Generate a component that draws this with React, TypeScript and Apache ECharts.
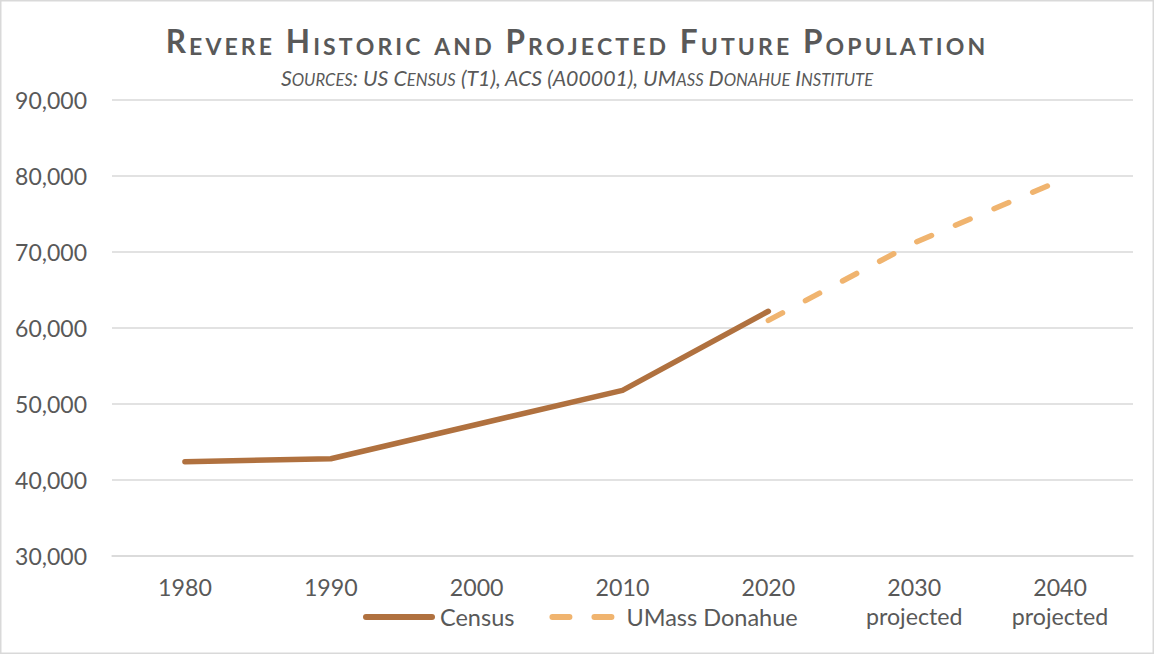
import React, { useEffect, useRef } from "react";
import * as echarts from "echarts";

const categories = ["1980", "1990", "2000", "2010", "2020", "2030\nprojected", "2040\nprojected"];
const censusValues = [42400, 42800, 47300, 51800, 62200, null, null];
const donahueValues = [null, null, null, null, 61000, 71200, 79400];
const yTicks = { min: 30000, max: 90000, interval: 10000 };

const TITLE = "Revere Historic and Projected Future Population";
const SUBTITLE = "Sources: US Census (T1), ACS (A00001), UMass Donahue Institute";

// Small-caps rich text: capitals/non-letters in style "a", lowercase shown as smaller capitals in style "b".
// perChar: one token per character (so token padding acts as letter spacing)
function smallCaps(s: string, perChar: boolean): string {
  let out = "";
  let cur = "";
  let curStyle = "";
  const flush = () => {
    if (cur) out += `{${curStyle}|${cur}}`;
    cur = "";
  };
  for (const ch of s) {
    const isLower = ch >= "a" && ch <= "z";
    const st = isLower ? "b" : "a";
    if (st !== curStyle || perChar) {
      flush();
      curStyle = st;
    }
    cur += isLower ? ch.toUpperCase() : ch;
  }
  flush();
  return out;
}

const GRAY = "#595959";
const FONT = "Lato, 'Open Sans', sans-serif";
const CENSUS_COLOR = "#B0713F";
const DONAHUE_COLOR = "#F0B46F";

const censusIcon = "path://M3,0L69,0A3,3,0,0,1,69,6L3,6A3,3,0,0,1,3,0Z";
const donahueIcon =
  "path://M3,0L20,0A3,3,0,0,1,20,6L3,6A3,3,0,0,1,3,0Z M45,0L62,0A3,3,0,0,1,62,6L45,6A3,3,0,0,1,45,0Z M72,0L72,6";

export default function App() {
  const ref = useRef<HTMLDivElement>(null);
  useEffect(() => {
    if (!ref.current) return;
    const chart = echarts.init(ref.current, undefined, { renderer: "svg" });
    const sp = 3.1;
    chart.setOption({
      animation: false,
      backgroundColor: "#ffffff",
      textStyle: { fontFamily: FONT },
      title: [
        {
          text: smallCaps(TITLE, true),
          left: "center",
          top: 20,
          textStyle: {
            rich: {
              a: { fontFamily: FONT, fontSize: 31.5, fontWeight: "bold", color: GRAY, verticalAlign: "bottom", padding: [0, sp, 0, 0] },
              b: { fontFamily: FONT, fontSize: 23, fontWeight: "bold", color: GRAY, verticalAlign: "bottom", padding: [0, sp, 0, 0] },
            },
          },
        },
        {
          text: smallCaps(SUBTITLE, false),
          left: "center",
          top: 62,
          textStyle: {
            fontWeight: "normal",
            rich: {
              a: { fontFamily: FONT, fontSize: 21.3, fontStyle: "italic", fontWeight: "normal", color: GRAY, verticalAlign: "bottom" },
              b: { fontFamily: FONT, fontSize: 16.6, fontStyle: "italic", fontWeight: "normal", color: GRAY, verticalAlign: "bottom" },
            },
          },
        },
      ],
      graphic: [
        {
          type: "rect",
          shape: { x: 0.75, y: 0.75, width: 1152.5, height: 652.5 },
          style: { fill: "none", stroke: "#D9D9D9", lineWidth: 1.5 },
          silent: true,
        },
      ],
      grid: { left: 112, right: 21, top: 100, bottom: 98, containLabel: false },
      legend: {
        left: 363,
        top: 605,
        padding: 0,
        itemWidth: 72,
        itemHeight: 6,
        itemGap: 35,
        textStyle: { color: GRAY, fontSize: 23.5, fontFamily: FONT },
        data: [
          { name: "Census", icon: censusIcon },
          { name: "UMass Donahue", icon: donahueIcon },
        ],
      },
      xAxis: {
        type: "category",
        data: categories,
        boundaryGap: true,
        axisLine: { show: true, lineStyle: { color: "#D9D9D9", width: 1.5 } },
        axisTick: { show: false },
        axisLabel: { color: GRAY, fontSize: 23.2, fontFamily: FONT, margin: 16, lineHeight: 29, interval: 0 },
      },
      yAxis: {
        type: "value",
        min: yTicks.min,
        max: yTicks.max,
        interval: yTicks.interval,
        axisLine: { show: false },
        axisTick: { show: false },
        splitLine: { lineStyle: { color: "#D9D9D9", width: 1.5 } },
        axisLabel: {
          color: GRAY,
          fontSize: 23,
          fontFamily: FONT,
          margin: 25,
          formatter: (v: number) => v.toLocaleString("en-US"),
        },
      },
      series: [
        {
          name: "Census",
          type: "line",
          data: censusValues,
          symbol: "none",
          connectNulls: false,
          itemStyle: { color: CENSUS_COLOR },
          lineStyle: { color: CENSUS_COLOR, width: 5.5, cap: "round", join: "round" },
        },
        {
          name: "UMass Donahue",
          type: "line",
          data: donahueValues,
          symbol: "none",
          connectNulls: false,
          itemStyle: { color: DONAHUE_COLOR },
          lineStyle: { color: DONAHUE_COLOR, width: 5.5, type: [16, 26], cap: "round", join: "round" },
        },
      ],
    });
    return () => chart.dispose();
  }, []);
  return <div ref={ref} style={{ position: "fixed", left: 0, top: 0, width: 1154, height: 654 }} />;
}
